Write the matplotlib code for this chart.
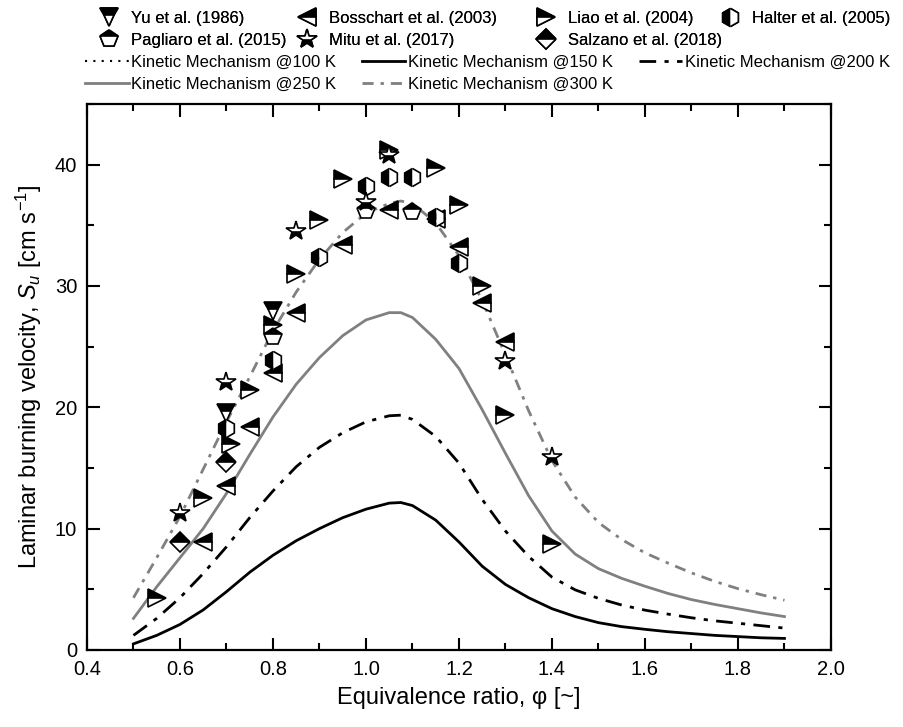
import matplotlib
matplotlib.use('Agg')
import matplotlib.pyplot as plt
from matplotlib.ticker import MultipleLocator

plt.rcParams['font.family'] = ['Liberation Sans', 'DejaVu Sans']
plt.rcParams['mathtext.fontset'] = 'custom'
plt.rcParams['mathtext.it'] = 'Liberation Sans:italic'
plt.rcParams['mathtext.rm'] = 'Liberation Sans'

# kinetic mechanism curves
phi = [0.5, 0.55, 0.6, 0.65, 0.7, 0.75, 0.8, 0.85, 0.9, 0.95, 1.0, 1.05, 1.075, 1.1,
       1.15, 1.2, 1.25, 1.3, 1.35, 1.4, 1.45, 1.5, 1.55, 1.6, 1.65, 1.7, 1.75, 1.8,
       1.85, 1.9]
su_150 = [0.5, 1.2, 2.1, 3.3, 4.8, 6.4, 7.8, 9.0, 10.0, 10.9, 11.6, 12.1, 12.15, 11.9,
          10.7, 8.9, 6.9, 5.4, 4.3, 3.4, 2.75, 2.25, 1.92, 1.7, 1.5, 1.35, 1.2, 1.1,
          1.0, 0.95]
su_200 = [1.2, 2.6, 4.3, 6.3, 8.5, 10.9, 13.1, 15.1, 16.7, 17.9, 18.8, 19.3, 19.35, 19.0,
          17.6, 15.4, 12.4, 9.8, 7.7, 6.0, 4.95, 4.25, 3.7, 3.28, 2.95, 2.65, 2.4, 2.2,
          2.0, 1.8]
su_250 = [2.6, 5.2, 7.6, 10.0, 12.9, 16.1, 19.2, 21.9, 24.1, 25.9, 27.2, 27.8, 27.8, 27.4,
          25.6, 23.2, 19.8, 16.2, 12.7, 9.8, 7.9, 6.7, 5.9, 5.25, 4.65, 4.15, 3.75, 3.4,
          3.05, 2.75]
su_300 = [4.3, 7.6, 11.0, 14.9, 18.8, 22.5, 26.3, 29.5, 32.2, 34.4, 36.0, 36.8, 37.0, 36.8,
          35.2, 32.5, 28.8, 24.3, 19.7, 15.6, 12.6, 10.5, 9.1, 8.0, 7.15, 6.35, 5.65, 5.05,
          4.55, 4.1]

# experimental data
yu_phi = [0.7, 0.8]
yu_su = [19.5, 27.9]
bos_phi = [0.65, 0.7, 0.75, 0.8, 0.85, 0.95, 1.05, 1.15, 1.2, 1.25, 1.3]
bos_su = [8.9, 13.5, 18.4, 22.8, 27.8, 33.4, 36.3, 35.5, 33.2, 28.6, 25.4]
liao_phi = [0.55, 0.65, 0.71, 0.75, 0.8, 0.85, 0.9, 0.95, 1.05, 1.15, 1.2, 1.25, 1.3, 1.4]
liao_su = [4.3, 12.5, 17.0, 21.4, 26.8, 31.0, 35.4, 38.8, 41.2, 39.7, 36.7, 30.0, 19.4, 8.7]
hal_phi = [0.7, 0.8, 0.9, 1.0, 1.05, 1.1, 1.15, 1.2]
hal_su = [18.3, 23.9, 32.4, 38.2, 39.0, 39.0, 35.7, 31.9]
pag_phi = [0.8, 1.0, 1.1]
pag_su = [25.8, 36.2, 36.1]
mitu_phi = [0.6, 0.7, 0.85, 1.0, 1.05, 1.3, 1.4]
mitu_su = [11.3, 22.1, 34.5, 36.9, 40.8, 23.8, 15.9]
sal_phi = [0.6, 0.7]
sal_su = [8.9, 15.5]

gray = '#808080'

fig = plt.figure(figsize=(9.04, 7.27), dpi=100)
ax = fig.add_axes([0.0962, 0.106, 0.823, 0.751])

l100, = ax.plot([], [], color='black', lw=1.5, linestyle=(0, (1, 3)))
l150, = ax.plot(phi, su_150, '-', color='black', lw=2)
l200, = ax.plot(phi, su_200, color='black', lw=2, linestyle=(0, (6, 3, 1.5, 3)))
l250, = ax.plot(phi, su_250, '-', color=gray, lw=2)
l300, = ax.plot(phi, su_300, color=gray, lw=2, linestyle=(0, (4, 2.5, 1.2, 2.5)))

common = dict(linestyle='none', markerfacecolor='black', markerfacecoloralt='white',
              markeredgecolor='black', markeredgewidth=1.2)
m_yu, = ax.plot(yu_phi, yu_su, marker='v', markersize=13, fillstyle='top', **common)
m_bos, = ax.plot(bos_phi, bos_su, marker='<', markersize=13, fillstyle='top', **common)
m_liao, = ax.plot(liao_phi, liao_su, marker='>', markersize=13, fillstyle='top', **common)
m_hal, = ax.plot(hal_phi, hal_su, marker='h', markersize=13, fillstyle='left', **common)
m_pag, = ax.plot(pag_phi, pag_su, marker='p', markersize=13, fillstyle='top', **common)
m_mitu, = ax.plot(mitu_phi, mitu_su, marker='*', markersize=15, fillstyle='bottom', **common)
m_sal, = ax.plot(sal_phi, sal_su, marker='D', markersize=10, fillstyle='top', **common)

ax.set_xlim(0.4, 2.0)
ax.set_ylim(0, 45)
ax.xaxis.set_major_locator(MultipleLocator(0.2))
ax.xaxis.set_minor_locator(MultipleLocator(0.1))
ax.yaxis.set_major_locator(MultipleLocator(10))
ax.yaxis.set_minor_locator(MultipleLocator(5))
ax.tick_params(which='both', direction='in', top=True, right=True, width=1.5,
               labelsize=14.5, pad=7)
ax.tick_params(which='major', length=9)
ax.tick_params(which='minor', length=5)
for s in ax.spines.values():
    s.set_linewidth(1.6)

ax.set_xlabel('Equivalence ratio, \u03c6 [~]', fontsize=17, labelpad=6)
ax.set_ylabel(r'Laminar burning velocity, $S_u$ [cm s$^{-1}$]', fontsize=17, labelpad=8)

# marker legend, one column at a time
W, H = 904.0, 727.0
mk_cols = [([m_yu, m_pag], ['Yu et al. (1986)', 'Pagliaro et al. (2015)'], 96),
           ([m_bos, m_mitu], ['Bosschart et al. (2003)', 'Mitu et al. (2017)'], 294),
           ([m_liao, m_sal], ['Liao et al. (2004)', 'Salzano et al. (2018)'], 533),
           ([m_hal], ['Halter et al. (2005)'], 717)]
for handles, labels, x0 in mk_cols:
    fig.add_artist(fig.legend(handles, labels, loc='upper left',
                              bbox_to_anchor=(x0 / W, 1 - 8 / H), frameon=False,
                              fontsize=12, handlelength=1.2, handletextpad=0.7,
                              labelspacing=0.42, borderpad=0.2, borderaxespad=0))

ln_handles = [l100, l250, l150, l300, l200]
ln_labels = ['Kinetic Mechanism @100 K', 'Kinetic Mechanism @250 K',
             'Kinetic Mechanism @150 K', 'Kinetic Mechanism @300 K',
             'Kinetic Mechanism @200 K']
fig.legend(ln_handles, ln_labels, ncol=3, loc='upper left',
           bbox_to_anchor=(82 / W, 1 - 52 / H), frameon=False, fontsize=12,
           handlelength=2.6, handletextpad=0.15, columnspacing=1.55,
           labelspacing=0.42, borderpad=0.2, borderaxespad=0)

fig.savefig('out.png', dpi=100)
